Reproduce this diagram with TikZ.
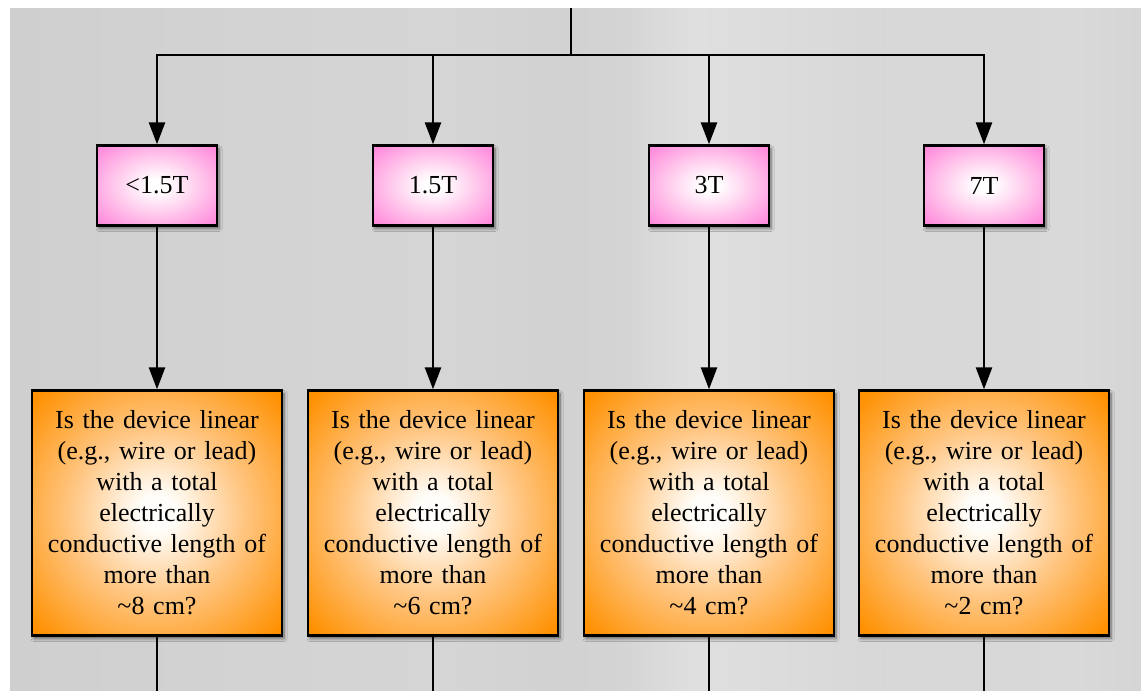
\documentclass[tikz,border=0pt]{standalone}
\usepackage{fontspec}
\setmainfont{Liberation Serif}
\usetikzlibrary{arrows.meta,shadows.blur}

% brushed grey backdrop, varying from left to right
\pgfdeclarehorizontalshading{backdrop}{100bp}{%
  rgb(0bp)=(0.812,0.812,0.812);
  rgb(25bp)=(0.812,0.812,0.812);
  rgb(35.6bp)=(0.827,0.827,0.827);
  rgb(44.4bp)=(0.835,0.835,0.835);
  rgb(49.3bp)=(0.822,0.822,0.822);
  rgb(52bp)=(0.830,0.830,0.830);
  rgb(55.1bp)=(0.875,0.875,0.875);
  rgb(59bp)=(0.862,0.862,0.862);
  rgb(63.5bp)=(0.845,0.845,0.845);
  rgb(72.3bp)=(0.850,0.850,0.850);
  rgb(75bp)=(0.835,0.835,0.835);
  rgb(100bp)=(0.835,0.835,0.835)}

% soft white glow in the middle of each box
\pgfdeclareradialshading{pinkglow}{\pgfpoint{0bp}{0bp}}{%
  rgb(0bp)=(1,1,1); rgb(4bp)=(1,1,1);
  rgb(17bp)=(1,0.80,0.93);
  rgb(34bp)=(1,0.53,0.86);
  rgb(50bp)=(1,0.53,0.86)}
\pgfdeclareradialshading{orangeglow}{\pgfpoint{0bp}{0bp}}{%
  rgb(0bp)=(1,1,1); rgb(4bp)=(1,0.99,0.97);
  rgb(17bp)=(1,0.78,0.52);
  rgb(34bp)=(1,0.565,0);
  rgb(50bp)=(1,0.565,0)}

\tikzset{
  boxshadow/.style={blur shadow={shadow xshift=2pt, shadow yshift=-3pt,
      shadow blur radius=3pt, shadow blur steps=6, shadow opacity=55}},
  field/.style={draw=black, line width=2.4pt, shading=pinkglow,
      minimum width=120pt, minimum height=80pt, inner sep=0pt,
      font=\fontsize{26}{31}\selectfont, boxshadow},
  question/.style={draw=black, line width=2.4pt, shading=orangeglow,
      minimum width=250pt, minimum height=245pt, text width=244pt, inner sep=0pt,
      align=center, font=\fontsize{26}{31}\selectfont, boxshadow},
  wire/.style={line width=2.6pt, black},
  link/.style={wire, -{Triangle[length=22pt,width=16pt]}}
}

\newcommand{\questiontext}[1]{Is the device linear\\(e.g., wire or lead)\\with a total\\electrically\\conductive length of\\more than\\\textasciitilde#1 cm?}

\begin{document}
\begin{tikzpicture}[x=1pt,y=-1pt]
\useasboundingbox (0,0) rectangle (1141,691);
\fill[white] (0,0) rectangle (1141,691);
\shade[shading=backdrop] (10,8) rectangle (1141,691);

% field strength boxes
\node[field] (p1) at (157,185.5) {<1.5T};
\node[field] (p2) at (433,185.5) {1.5T};
\node[field] (p3) at (709,185.5) {3T};
\node[field] (p4) at (984,185.5) {7T};

% length questions
\node[question] (q1) at (157,513) {\questiontext{8}};
\node[question] (q2) at (433,513) {\questiontext{6}};
\node[question] (q3) at (709,513) {\questiontext{4}};
\node[question] (q4) at (984,513) {\questiontext{2}};

% incoming trunk and its split
\coordinate (top) at (571,8);
\coordinate (hub) at (571,55);
\draw[wire] (top) -- (hub);
\draw[link] (hub) -| (p1.north);
\draw[link] (hub) -| (p2.north);
\draw[link] (hub) -| (p3.north);
\draw[link] (hub) -| (p4.north);

% field -> question
\draw[link] (p1.south) -- (q1.north);
\draw[link] (p2.south) -- (q2.north);
\draw[link] (p3.south) -- (q3.north);
\draw[link] (p4.south) -- (q4.north);

% outgoing lines
\coordinate (e1) at (157,691);
\coordinate (e2) at (433,691);
\coordinate (e3) at (709,691);
\coordinate (e4) at (984,691);
\draw[wire] (q1.south) -- (e1);
\draw[wire] (q2.south) -- (e2);
\draw[wire] (q3.south) -- (e3);
\draw[wire] (q4.south) -- (e4);
\end{tikzpicture}
\end{document}
